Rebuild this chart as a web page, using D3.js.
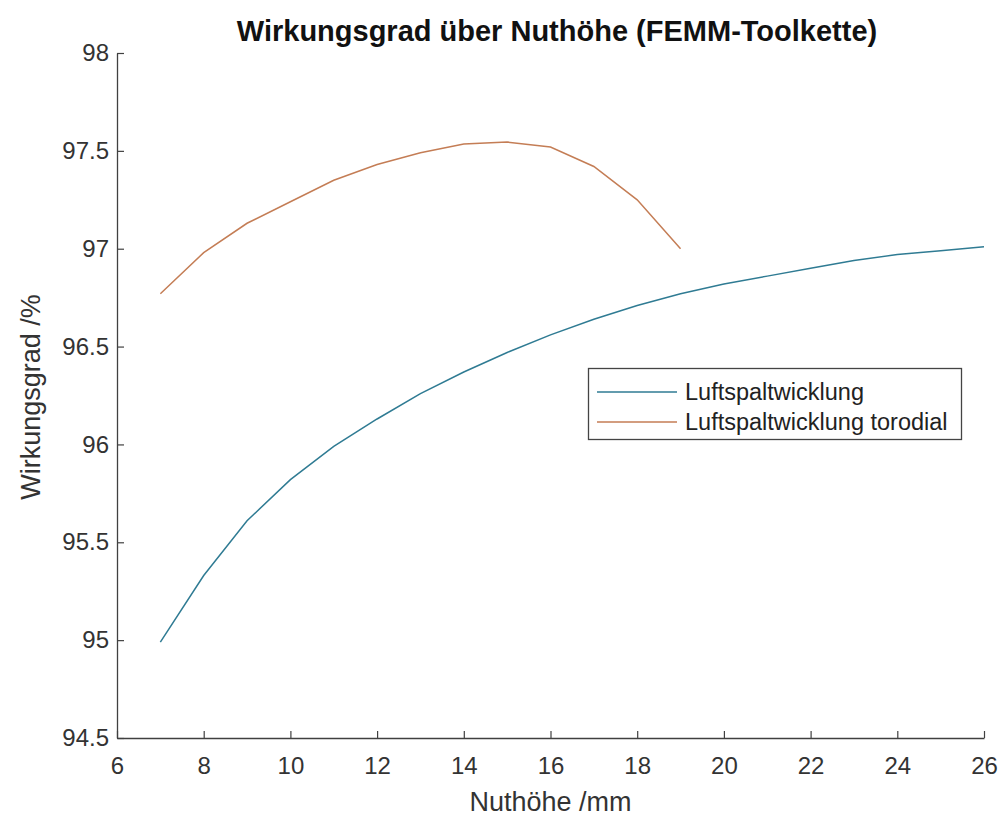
<!DOCTYPE html>
<html><head><meta charset="utf-8">
<script src="https://cdn.jsdelivr.net/npm/d3@7"></script>
<style>body{margin:0;background:#fff;} svg{display:block;font-family:"Liberation Sans",Arial,sans-serif;}</style>
</head><body>
<svg id="c" width="1004" height="818"></svg>
<script>
const xBlue = [7,8,9,10,11,12,13,14,15,16,17,18,19,20,21,22,23,24,25,26];
const yBlue = [94.99,95.33,95.61,95.82,95.99,96.13,96.26,96.37,96.47,96.56,96.64,96.71,96.77,96.82,96.86,96.90,96.94,96.97,96.99,97.01];
const xOrange = [7,8,9,10,11,12,13,14,15,16,17,18,19];
const yOrange = [96.77,96.98,97.13,97.24,97.35,97.43,97.49,97.535,97.545,97.52,97.42,97.25,97.00];
const xTicks = [6,8,10,12,14,16,18,20,22,24,26];
const yTicks = [94.5,95,95.5,96,96.5,97,97.5,98];
const seriesNames = ["Luftspaltwicklung","Luftspaltwicklung torodial"];
const colors = ["#2f7b93","#c47d55"];
const title = "Wirkungsgrad über Nuthöhe (FEMM-Toolkette)";
const xLabel = "Nuthöhe /mm";
const yLabel = "Wirkungsgrad /%";

const svg = d3.select("#c");
const L=117, R=984, T=53, B=738;
const x = d3.scaleLinear().domain([6,26]).range([L,R]);
const y = d3.scaleLinear().domain([94.5,98]).range([B,T]);
const axisCol = "#404040", textCol = "#333";

const xa = svg.append("g").attr("transform",`translate(0,${B})`)
  .call(d3.axisBottom(x).tickValues(xTicks).tickFormat(d3.format("d")).tickSizeInner(-7).tickSizeOuter(0).tickPadding(19));
const ya = svg.append("g").attr("transform",`translate(${L},0)`)
  .call(d3.axisLeft(y).tickValues(yTicks).tickFormat(d=>String(d)).tickSizeInner(-7).tickSizeOuter(0).tickPadding(8));
[xa,ya].forEach(a=>{
  a.select(".domain").attr("stroke",axisCol).attr("stroke-width",1.3);
  a.selectAll(".tick line").attr("stroke",axisCol).attr("stroke-width",1.2);
  a.selectAll(".tick text").attr("fill",textCol).style("font-size","24px").style("font-family","Liberation Sans, Arial, sans-serif");
});

const line = d3.line().x(d=>x(d[0])).y(d=>y(d[1]));
const data = [d3.zip(xBlue,yBlue), d3.zip(xOrange,yOrange)];
data.forEach((d,i)=>{
  svg.append("path").datum(d).attr("d",line).attr("fill","none").attr("stroke",colors[i]).attr("stroke-width",1.5);
});

svg.append("text").attr("x",557).attr("y",41).attr("text-anchor","middle")
  .attr("fill","#111").style("font-size","29px").style("font-weight","bold").text(title);
svg.append("text").attr("x",(L+R)/2).attr("y",811).attr("text-anchor","middle")
  .attr("fill",textCol).style("font-size","27px").text(xLabel);
svg.append("text").attr("transform",`translate(40,397) rotate(-90)`).attr("text-anchor","middle")
  .attr("fill",textCol).style("font-size","27px").text(yLabel);

// legend
const lg = svg.append("g");
lg.append("rect").attr("x",588.5).attr("y",368.5).attr("width",373).attr("height",71)
  .attr("fill","#fff").attr("stroke","#444").attr("stroke-width",1.3);
seriesNames.forEach((n,i)=>{
  const yy = 392 + i*30;
  lg.append("line").attr("x1",597).attr("x2",677).attr("y1",yy).attr("y2",yy).attr("stroke",colors[i]).attr("stroke-width",1.5);
  lg.append("text").attr("x",685).attr("y",yy).attr("dy","0.35em").attr("fill","#222").style("font-size","23.5px").text(n);
});
</script>
</body></html>
